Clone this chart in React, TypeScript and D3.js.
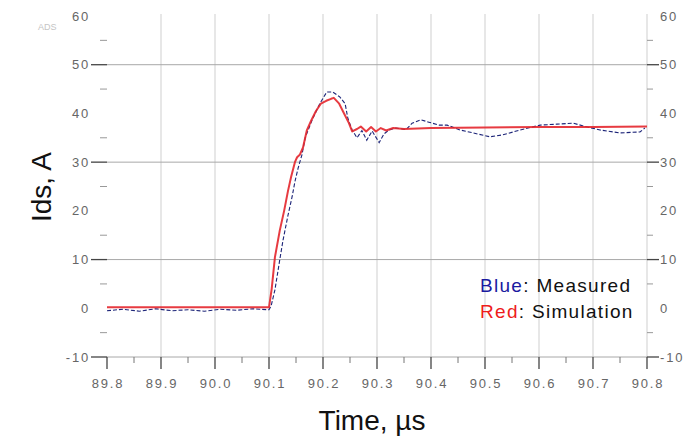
import React from "react";
import * as d3 from "d3";

// time (µs) and current (A)
const simTime = [89.8, 90.0, 90.1, 90.105, 90.111, 90.12, 90.128, 90.135, 90.141, 90.148, 90.152, 90.157, 90.163, 90.17, 90.178, 90.187, 90.196, 90.206, 90.215, 90.22, 90.23, 90.239, 90.248, 90.254, 90.263, 90.27, 90.28, 90.289, 90.298, 90.307, 90.317, 90.33, 90.35, 90.4, 90.5, 90.6, 90.7, 90.8];
const simIds = [0.2, 0.2, 0.2, 4, 10.5, 16, 20, 24, 27, 30, 31, 31.5, 33, 36.5, 38.5, 40.5, 42, 42.6, 43, 43.2, 42, 40, 38, 36.3, 36.8, 37.3, 36.3, 37.2, 36.3, 37, 36.5, 37, 36.8, 37, 37.1, 37.2, 37.2, 37.3];

const measTime = [89.8, 89.83, 89.86, 89.89, 89.92, 89.95, 89.98, 90.01, 90.04, 90.07, 90.1, 90.104, 90.111, 90.12, 90.126, 90.135, 90.143, 90.148, 90.154, 90.161, 90.167, 90.18, 90.194, 90.207, 90.218, 90.231, 90.241, 90.246, 90.254, 90.263, 90.272, 90.281, 90.291, 90.304, 90.313, 90.322, 90.335, 90.354, 90.365, 90.381, 90.396, 90.415, 90.43, 90.454, 90.478, 90.509, 90.533, 90.565, 90.602, 90.633, 90.663, 90.69, 90.713, 90.75, 90.787, 90.796];
const measIds = [-0.5, -0.2, -0.6, -0.1, -0.5, -0.3, -0.6, -0.2, -0.4, -0.1, -0.3, 0.5, 3.8, 10, 14, 19, 23, 26, 28.8, 31.5, 35, 38.7, 42, 44.4, 44.4, 43.4, 42, 39, 36.6, 35, 36.5, 34.5, 36.4, 34, 35.8, 36.6, 37, 36.7, 38, 38.7, 38.2, 37.6, 37.6, 36.6, 36, 35.2, 35.6, 36.6, 37.6, 37.8, 38, 37.2, 36.6, 36, 36.2, 37];

const xTicks = [89.8, 89.9, 90.0, 90.1, 90.2, 90.3, 90.4, 90.5, 90.6, 90.7, 90.8];
const yTicks = [-10, 0, 10, 20, 30, 40, 50, 60];
const yGrid = [-10, 10, 30, 50];
const yMinor = [-5, 5, 15, 25, 35, 45, 55];

const W = 700;
const H = 438;

export default function App() {
  const x = d3.scaleLinear().domain([89.8, 90.8]).range([107, 647]);
  const y = d3.scaleLinear().domain([-10, 60]).range([357, 16]);
  const bottom = y(-10);

  const line = d3
    .line<[number, number]>()
    .x((d) => x(d[0]))
    .y((d) => y(d[1]));

  const sim = line(simTime.map((t, i) => [t, simIds[i]]) as [number, number][]) || "";
  const meas = line(measTime.map((t, i) => [t, measIds[i]]) as [number, number][]) || "";

  const xMinor = d3.range(0, 10).map((i) => 89.85 + i * 0.1);
  const tickFont = { fontFamily: "Liberation Sans, Arial, sans-serif", fontSize: 13, fill: "#666", letterSpacing: 1.8 };
  const legendFont = { fontFamily: "Liberation Sans, Arial", fontSize: 19, letterSpacing: 1.3 };
  const titleFont = { fontFamily: "Liberation Sans, Arial", fontSize: 28, fill: "#111" };

  return (
    <svg width={W} height={H} style={{ position: "absolute", left: 0, top: 0, background: "#fff" }}>
      <text x={38} y={30} style={{ fontFamily: "Liberation Sans, Arial", fontSize: 9, fill: "#c4c4c4" }}>ADS</text>

      {/* vertical grid */}
      {xTicks.slice(1).map((t) => (
        <line key={"vg" + t} x1={x(t)} x2={x(t)} y1={14} y2={bottom} stroke="#cfcfcf" strokeWidth={1} />
      ))}
      {/* horizontal grid */}
      {yGrid.map((v) => (
        <line key={"hg" + v} x1={x(89.8)} x2={x(90.8)} y1={y(v)} y2={y(v)} stroke="#a8a8a8" strokeWidth={1} />
      ))}

      {/* left / right axis ticks */}
      {yGrid.map((v) => (
        <g key={"yt" + v}>
          <line x1={x(89.8) - 16} x2={x(89.8)} y1={y(v)} y2={y(v)} stroke="#444" strokeWidth={1.3} />
          <line x1={x(90.8)} x2={x(90.8) + 12} y1={y(v)} y2={y(v)} stroke="#444" strokeWidth={1.3} />
        </g>
      ))}
      {yMinor.map((v) => (
        <g key={"ym" + v}>
          <line x1={x(89.8) - 7} x2={x(89.8)} y1={y(v)} y2={y(v)} stroke="#999" strokeWidth={1} />
          <line x1={x(90.8)} x2={x(90.8) + 6} y1={y(v)} y2={y(v)} stroke="#999" strokeWidth={1} />
        </g>
      ))}
      {yTicks.map((v) => (
        <g key={"yl" + v}>
          <text x={90} y={y(v)} dy="0.35em" textAnchor="end" style={tickFont}>{v}</text>
          <text x={660} y={y(v)} dy="0.35em" textAnchor="start" style={tickFont}>{v}</text>
        </g>
      ))}

      {/* bottom axis */}
      {xTicks.map((t) => (
        <g key={"xt" + t}>
          <line x1={x(t)} x2={x(t)} y1={bottom} y2={bottom + 12} stroke="#444" strokeWidth={1.3} />
          <text x={x(t) + 1} y={383} dy="0.35em" textAnchor="middle" style={tickFont}>{t.toFixed(1)}</text>
        </g>
      ))}
      {xMinor.map((t) => (
        <line key={"xm" + t} x1={x(t)} x2={x(t)} y1={bottom} y2={bottom + 6} stroke="#777" strokeWidth={1} />
      ))}

      {/* series */}
      <path d={meas} fill="none" stroke="#1c2478" strokeWidth={1.1} strokeDasharray="4,2" />
      <path d={sim} fill="none" stroke="#e4262c" strokeWidth={2} strokeOpacity={0.9} strokeLinejoin="round" />

      {/* legend */}
      <text x={480} y={292} style={legendFont}>
        <tspan fill="#1a1aa0">Blue</tspan>
        <tspan fill="#111">: Measured</tspan>
      </text>
      <text x={480} y={318} style={legendFont}>
        <tspan fill="#ee1c1c">Red</tspan>
        <tspan fill="#111">: Simulation</tspan>
      </text>

      {/* axis titles */}
      <text x={372} y={430} textAnchor="middle" style={titleFont}>Time, µs</text>
      <text transform={`translate(51,${187}) rotate(-90)`} textAnchor="middle" style={titleFont}>Ids, A</text>
    </svg>
  );
}
